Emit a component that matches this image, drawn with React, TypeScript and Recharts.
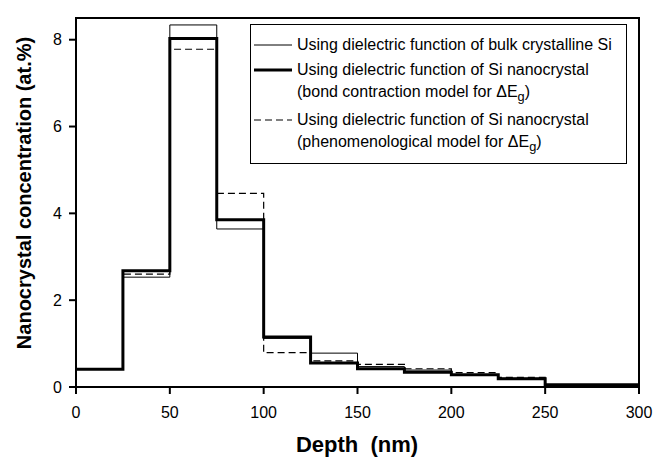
import { LineChart, Line, XAxis, YAxis, ReferenceArea } from 'recharts';

// bin edges (nm); last edge closes the final step
const depth = [0, 25, 50, 75, 100, 125, 150, 175, 200, 225, 250, 275, 300];
const bulkSi = [0.41, 2.53, 8.34, 3.64, 1.12, 0.78, 0.47, 0.39, 0.28, 0.2, 0.05, 0.05, 0.05];
const bondContraction = [0.41, 2.68, 8.03, 3.85, 1.15, 0.55, 0.42, 0.34, 0.28, 0.19, 0.05, 0.05, 0.05];
const phenomenological = [0.41, 2.6, 7.78, 4.46, 0.79, 0.6, 0.52, 0.42, 0.33, 0.22, 0.04, 0.04, 0.04];
const xTicks = [0, 50, 100, 150, 200, 250, 300];
const yTicks = [0, 2, 4, 6, 8];

const data = depth.map((d, i) => ({
  depth: d,
  bulk: bulkSi[i],
  bond: bondContraction[i],
  phen: phenomenological[i],
}));

const font = '"Liberation Sans", Arial, sans-serif';

function LegendBox() {
  const sub = { fontSize: '0.8em', position: 'relative', top: '0.3em' } as const;
  // row centre (relative to the box top), with optional sample line
  const text = (top: number, children: React.ReactNode) => (
    <div style={{ position: 'absolute', left: 46, top: top - 10, height: 20, lineHeight: '20px', whiteSpace: 'nowrap' }}>
      {children}
    </div>
  );
  const sample = (top: number, width: number, dash?: string) => (
    <svg style={{ position: 'absolute', left: 3, top: top - 3 }} width={38} height={6}>
      <line x1={0} x2={38} y1={3} y2={3} stroke="#000" strokeWidth={width} strokeDasharray={dash} />
    </svg>
  );
  return (
    <div
      style={{
        position: 'absolute',
        left: 250,
        top: 24,
        width: 377,
        height: 140,
        border: '1.5px solid #000',
        boxSizing: 'border-box',
        background: '#fff',
        fontFamily: font,
        fontSize: 16,
        color: '#000',
      }}
    >
      {sample(20, 1)}
      {text(20, 'Using dielectric function of bulk crystalline Si')}
      {sample(45, 3)}
      {text(45, 'Using dielectric function of Si nanocrystal')}
      {text(67, <>(bond contraction model for ΔE<span style={sub}>g</span>)</>)}
      {sample(95, 1.2, '7 4')}
      {text(95, 'Using dielectric function of Si nanocrystal')}
      {text(117, <>(phenomenological model for ΔE<span style={sub}>g</span>)</>)}
    </div>
  );
}

export default function App() {
  const tick = { fill: '#000', fontSize: 16, fontFamily: font };
  return (
    <div style={{ position: 'absolute', left: 0, top: 0, width: 655, height: 462, background: '#fff' }}>
      <LineChart width={655} height={462} data={data} margin={{ top: 18, right: 16, left: 0, bottom: 0 }}>
        <XAxis
          dataKey="depth"
          type="number"
          domain={[0, 300]}
          ticks={xTicks}
          height={75}
          stroke="#000"
          strokeWidth={2}
          tickSize={7}
          tickMargin={13}
          tick={tick}
          label={{
            content: () => (
              <text
                x={357}
                y={452}
                textAnchor="middle"
                style={{ whiteSpace: 'pre', fontFamily: font, fontWeight: 'bold', fontSize: 22 }}
              >
                {'Depth  (nm)'}
              </text>
            ),
          }}
        />
        <YAxis
          type="number"
          domain={[0, 8.5]}
          ticks={yTicks}
          width={76}
          stroke="#000"
          strokeWidth={2}
          tickSize={7}
          tickMargin={7}
          tick={tick}
          label={{
            content: () => (
              <text
                x={31}
                y={193}
                transform="rotate(-90 31 193)"
                textAnchor="middle"
                style={{ fontFamily: font, fontWeight: 'bold', fontSize: 20 }}
              >
                Nanocrystal concentration (at.%)
              </text>
            ),
          }}
        />
        <ReferenceArea x1={0} x2={300} y1={0} y2={8.5} fill="none" stroke="#000" strokeWidth={2} />
        <Line
          type="stepAfter"
          dataKey="bulk"
          stroke="#000"
          strokeWidth={1}
          dot={false}
          isAnimationActive={false}
        />
        <Line
          type="stepAfter"
          dataKey="phen"
          stroke="#000"
          strokeWidth={1.2}
          strokeDasharray="7 4"
          dot={false}
          isAnimationActive={false}
        />
        <Line
          type="stepAfter"
          dataKey="bond"
          stroke="#000"
          strokeWidth={3}
          dot={false}
          isAnimationActive={false}
        />
      </LineChart>
      <LegendBox />
    </div>
  );
}
